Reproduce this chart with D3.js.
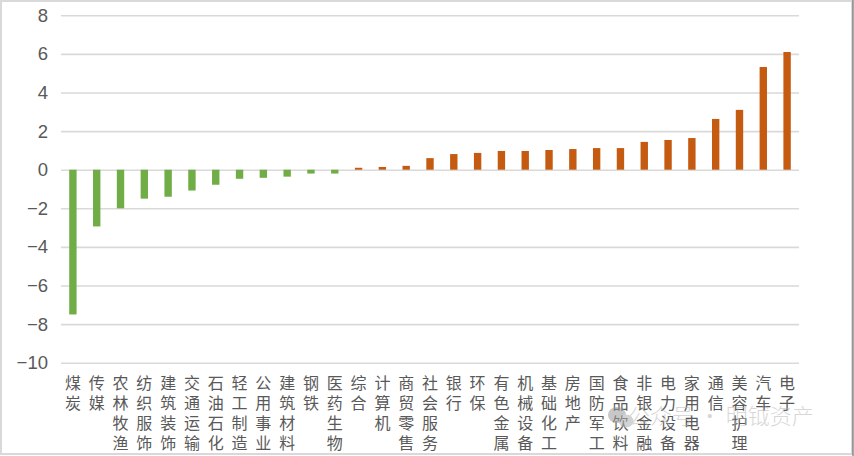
<!DOCTYPE html>
<html><head><meta charset="utf-8">
<script src="https://cdn.jsdelivr.net/npm/d3@7"></script>
<style>html,body{margin:0;padding:0;background:#fff;}svg{display:block;}</style>
</head><body>
<svg id="c" width="854" height="456"></svg>
<script>
const categories = ["煤炭","传媒","农林牧渔","纺织服饰","建筑装饰","交通运输","石油石化","轻工制造","公用事业","建筑材料","钢铁","医药生物","综合","计算机","商贸零售","社会服务","银行","环保","有色金属","机械设备","基础化工","房地产","国防军工","食品饮料","非银金融","电力设备","家用电器","通信","美容护理","汽车","电子"];
const values = [-7.5,-2.94,-2.0,-1.5,-1.4,-1.08,-0.78,-0.47,-0.42,-0.36,-0.2,-0.2,0.1,0.14,0.2,0.6,0.81,0.87,0.97,0.97,1.02,1.07,1.12,1.12,1.44,1.54,1.64,2.63,3.1,5.32,6.1];
const yTicks = [-10,-8,-6,-4,-2,0,2,4,6,8];
const watermark = "公众号 · 明钺资产";

const data = categories.map((c,i)=>({cat:c, val:values[i]}));
const svg = d3.select("#c");
const L = 61, R = 799;

// frame
svg.append("rect").attr("x",1).attr("y",1).attr("width",851).attr("height",453)
  .attr("fill","#fff").attr("stroke","#d9d9d9").attr("stroke-width",2);
svg.append("line").attr("x1",853).attr("x2",853).attr("y1",0).attr("y2",456)
  .attr("stroke","#555").attr("stroke-width",1);

const x = d3.scaleBand().domain(categories).range([L,R]).paddingInner(0.69).paddingOuter(0.345);
const y = d3.scaleLinear().domain([-10,8]).range([362.7,15.3]);

// y axis + gridlines
const ya = svg.append("g").attr("transform",`translate(${L},0)`)
  .call(d3.axisLeft(y).tickValues(yTicks).tickSize(-(R-L)).tickPadding(13));
ya.select(".domain").remove();
ya.selectAll(".tick line").attr("stroke","#d9d9d9").attr("stroke-width",1.6);
ya.selectAll(".tick text").attr("fill","#595959").attr("font-size",18.5)
  .attr("font-family","'Liberation Sans', Arial, sans-serif");

// bars
svg.append("g").selectAll("rect").data(data).enter().append("rect")
  .attr("x",d=>x(d.cat))
  .attr("width",x.bandwidth())
  .attr("y",d=>y(Math.max(0,d.val)))
  .attr("height",d=>Math.abs(y(d.val)-y(0)))
  .attr("fill",d=>d.val<0?"#70ad47":"#c55a11");

// x labels (vertical stacked characters)
const xa = svg.append("g").attr("transform",`translate(0,374)`)
  .call(d3.axisBottom(x).tickSize(0).tickFormat(""));
xa.select(".domain").remove();
xa.selectAll(".tick").each(function(d){
  const g = d3.select(this);
  const t = g.append("text").attr("fill","#595959").attr("font-size",16)
    .attr("font-family","'Noto Sans CJK SC', sans-serif").attr("text-anchor","middle");
  Array.from(d).forEach((ch,k)=>{
    t.append("tspan").attr("x",0).attr("y",8+k*20).attr("dominant-baseline","central").text(ch);
  });
});

// watermark
const wm = svg.append("g").attr("opacity",0.55);
wm.append("ellipse").attr("cx",617).attr("cy",415).attr("rx",9).attr("ry",8).attr("fill","#9a9a9a");
wm.append("ellipse").attr("cx",626).attr("cy",421).attr("rx",7.5).attr("ry",6.5).attr("fill","#b0b0b0");
wm.append("text").attr("x",628).attr("y",424).attr("font-size",22).attr("font-weight",300)
  .attr("font-family","'Noto Sans CJK SC', sans-serif").attr("fill","#b8b8b8").text(watermark);
</script>
</body></html>
